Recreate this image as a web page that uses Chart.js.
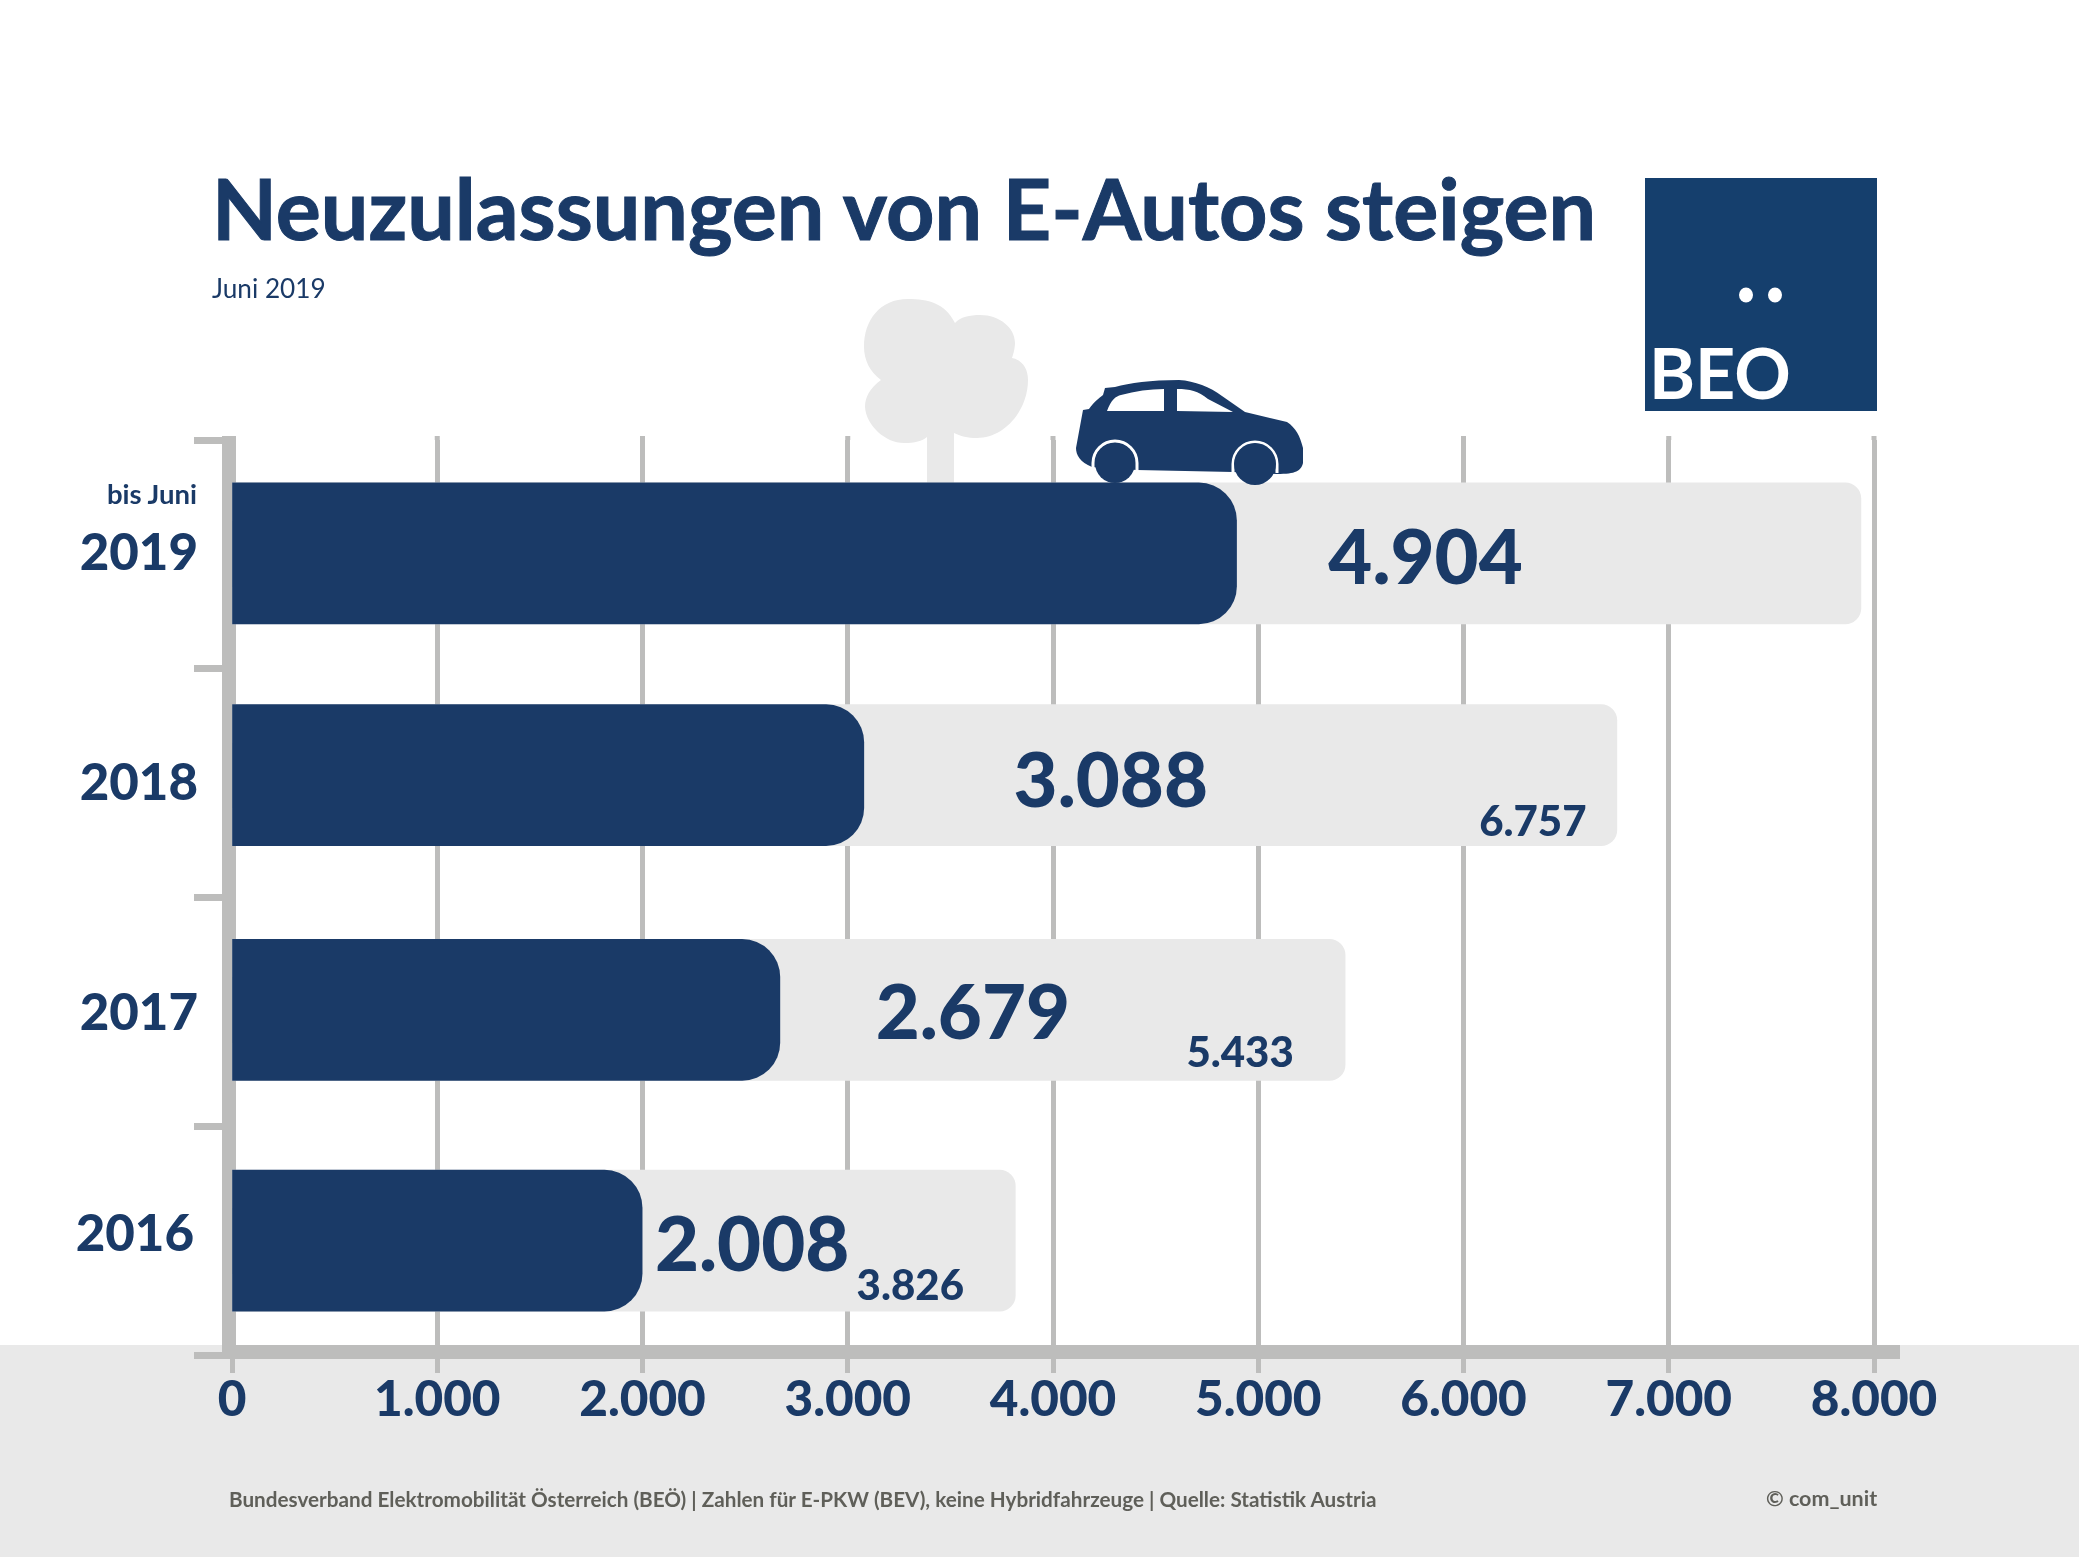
<!DOCTYPE html>
<html lang="de">
<head>
<meta charset="utf-8">
<title>Neuzulassungen von E-Autos steigen</title>
<script src="https://cdn.jsdelivr.net/npm/chart.js@4"></script>
<style>
  html, body { margin: 0; padding: 0; background: #fff; width: 2082px; height: 1559px; overflow: hidden; }
  body { position: relative; font-family: Lato, "Open Sans", sans-serif; color: #1a3a67; }
  #fussband { position: absolute; left: 0; top: 1345px; width: 2079px; height: 212px; background: #e9e9e9; }
  #baum, #auto { position: absolute; left: 0; top: 0; }
  #grafik { position: absolute; left: 0; top: 0; }
  .txt { position: absolute; white-space: nowrap; line-height: 1; }
  #titel { left: 212px; top: 166px; font-size: 84.4px; font-weight: 700; -webkit-text-stroke: 1px #1a3a67; }
  #untertitel { left: 212px; top: 275px; font-size: 26.2px; }
  #bisjuni { right: 1885px; top: 480px; font-size: 27.5px; font-weight: 700; }
  #quelle { left: 229px; top: 1489px; font-size: 20.7px; font-weight: 700; color: #5f5f59; }
  #copy { left: 1766px; top: 1488px; font-size: 21.5px; font-weight: 700; color: #5f5f59; }
  #logo { position: absolute; left: 1645px; top: 178px; width: 232px; height: 233px; background: #153f6d; }
  #logotext { left: 4px; top: 159px; font-size: 70px; font-weight: 700; color: #fff; }
</style>
</head>
<body>
<div id="fussband"></div>

<svg id="baum" width="2082" height="1559">
  <path fill="#e9e9e9" d="M955 323 C945 303 928 299 908 299 C880 299 864 320 864 347 C864 360 870 372 881 380 C870 388 865 397 865 407 C866 425 885 443 904 443 C915 443 922 441 927 437 L927 490 L954 490 L954 433 C960 436 968 438 977 438 C1005 438 1028 410 1028 380 C1028 368 1022 360 1012 358 C1015 350 1015 343 1015 343 C1015 328 1000 315 980 315 C970 315 960 317 955 323 Z"/>
</svg>

<canvas id="grafik" width="2082" height="1559"></canvas>

<svg id="auto" width="2082" height="1559">
  <path fill="#1a3a67" d="M1092 467 C1080 462 1076 455 1076 448 L1083 410 L1089 409 C1094 402 1099 398 1103 395 L1105 388 L1115 387 C1130 383 1150 380 1179 380 C1195 381 1210 387 1222 396 L1245 412 L1287 422 C1296 428 1300 436 1303 448 L1303 463 C1301 471 1296 474 1277 474 L1233 472 L1137 470 Z"/>
  <path fill="#fff" d="M1107 411 C1111 400 1116 396 1121 395 C1135 391 1150 389 1164 389 L1164 411 Z"/>
  <path fill="#fff" d="M1177 389 C1190 389 1198 391 1208 399 L1233 412 L1177 411 Z"/>
  <path fill="none" stroke="#fff" stroke-width="3" d="M1093 472 L1093 463 A22 22 0 0 1 1137 463 L1137 472"/>
  <path fill="none" stroke="#fff" stroke-width="3" d="M1233 473 L1233 464 A22 22 0 0 1 1277 464 L1277 473"/>
  <circle cx="1115" cy="463" r="20" fill="#1a3a67"/>
  <circle cx="1255" cy="464" r="21" fill="#1a3a67"/>
</svg>

<div class="txt" id="titel">Neuzulassungen von E-Autos steigen</div>
<div class="txt" id="untertitel">Juni 2019</div>
<div class="txt" id="bisjuni">bis Juni</div>
<div class="txt" id="quelle">Bundesverband Elektromobilität Österreich (BEÖ) | Zahlen für E-PKW (BEV), keine Hybridfahrzeuge | Quelle: Statistik Austria</div>
<div class="txt" id="copy">© com_unit</div>
<div id="logo">
  <svg width="232" height="233" style="position:absolute;left:0;top:0">
    <ellipse cx="101" cy="117" rx="7" ry="7.5" fill="#fff"/>
    <ellipse cx="130" cy="117" rx="7" ry="7.5" fill="#fff"/>
  </svg>
  <div class="txt" id="logotext">BEO</div>
</div>

<script>
const jahre = ['2019', '2018', '2017', '2016'];
const neuzulassungen = [4904, 3088, 2679, 2008];
const gesamtJahr = [7946, 6757, 5433, 3826];
const achsenMax = 8000;
const achsenSchritt = 1000;

const MARINE = '#1a3a67';
const HELLGRAU = '#e9e9e9';
const ACHSE = '#bdbdbc';

// Balken und Beschriftungen sitzen im Original nicht exakt mittig
const balkenVersatzX = -2;
const balkenVersatz = [-1, -8, -2, 0];
const jahrVersatzX = [0, 0, 0, -4];
const jahrVersatzY = [-1, 0, 2, -6];
const wertVersatzX = [189, 247, 193, 110];
const wertVersatzY = [6, 7, 5, 6];
const gesamtVersatzX = [null, -84, -105, -105];
const gesamtVersatzY = [null, 47, 44, 46];

const zahl = v => v.toLocaleString('de-DE');

const feinschliff = {
    id: 'feinschliff',
    afterDatasetsUpdate(chart) {
        chart.data.datasets.forEach((ds, d) => {
            chart.getDatasetMeta(d).data.forEach((el, i) => {
                el.y += balkenVersatz[i];
                el.x += balkenVersatzX;
                el.base += balkenVersatzX;
            });
        });
    },
    afterUpdate(chart) {
        chart.scales.y.getLabelItems().forEach((item, i) => {
            item.options.translation[0] += jahrVersatzX[i];
            item.options.translation[1] += jahrVersatzY[i];
        });
    },
    beforeDatasetsDraw(chart) {
        const ctx = chart.ctx;
        const a = chart.chartArea;
        ctx.save();
        ctx.fillStyle = ACHSE;
        ctx.fillRect(a.left - 10, a.bottom - 10, 1678, 14);
        ctx.fillRect(a.left - 10, a.top - 4, 14, a.bottom - a.top + 8);
        chart.scales.x.ticks.forEach((t, i) => {
            ctx.fillRect(chart.scales.x.getPixelForTick(i) - 2.5, a.top - 4, 5, 4);
        });
        ctx.restore();
    },
    afterDatasetsDraw(chart) {
        const ctx = chart.ctx;
        const dunkel = chart.getDatasetMeta(1).data;
        const hell = chart.getDatasetMeta(0).data;
        ctx.save();
        ctx.fillStyle = MARINE;
        ctx.textAlign = 'center';
        ctx.textBaseline = 'middle';
        ctx.font = '900 76px Lato';
        neuzulassungen.forEach((v, i) => {
            ctx.fillText(zahl(v), dunkel[i].x + wertVersatzX[i], dunkel[i].y + wertVersatzY[i]);
        });
        ctx.font = '900 42px Lato';
        gesamtJahr.forEach((v, i) => {
            if (gesamtVersatzX[i] === null) return;
            ctx.fillText(zahl(v), hell[i].x + gesamtVersatzX[i], hell[i].y + gesamtVersatzY[i]);
        });
        ctx.restore();
    }
};

new Chart(document.getElementById('grafik'), {
    type: 'bar',
    data: {
        labels: jahre,
        datasets: [
            {
                label: 'Gesamtjahr',
                data: gesamtJahr,
                backgroundColor: HELLGRAU,
                barThickness: 141,
                grouped: false,
                clip: false,
                order: 2,
                borderRadius: { topRight: 16, bottomRight: 16, topLeft: 0, bottomLeft: 0 }
            },
            {
                label: 'Neuzulassungen',
                data: neuzulassungen,
                backgroundColor: MARINE,
                barThickness: 141,
                grouped: false,
                clip: false,
                order: 1,
                borderRadius: { topRight: 38, bottomRight: 38, topLeft: 0, bottomLeft: 0 }
            }
        ]
    },
    options: {
        indexAxis: 'y',
        responsive: false,
        animation: false,
        layout: { padding: { left: 1, right: 208, top: 440, bottom: 104 } },
        plugins: { legend: { display: false }, tooltip: { enabled: false }, title: { display: false } },
        scales: {
            x: {
                type: 'linear',
                min: 0,
                max: achsenMax,
                afterFit(scale) { scale.height = 100; },
                border: { display: false },
                grid: { color: ACHSE, lineWidth: 5, tickLength: 18, tickColor: ACHSE, tickWidth: 5 },
                ticks: {
                    stepSize: achsenSchritt,
                    maxRotation: 0,
                    autoSkip: false,
                    color: MARINE,
                    padding: -3,
                    font: { family: 'Lato', weight: '900', size: 49.5 },
                    callback: v => zahl(v)
                }
            },
            y: {
                afterFit(scale) { scale.width = 231; },
                border: { display: false },
                grid: { drawOnChartArea: false, offset: true, tickLength: 38, tickColor: ACHSE, tickWidth: 7 },
                ticks: {
                    color: MARINE,
                    padding: -4,
                    font: { family: 'Lato', weight: '900', size: 51 }
                }
            }
        }
    },
    plugins: [feinschliff]
});
</script>
</body>
</html>
